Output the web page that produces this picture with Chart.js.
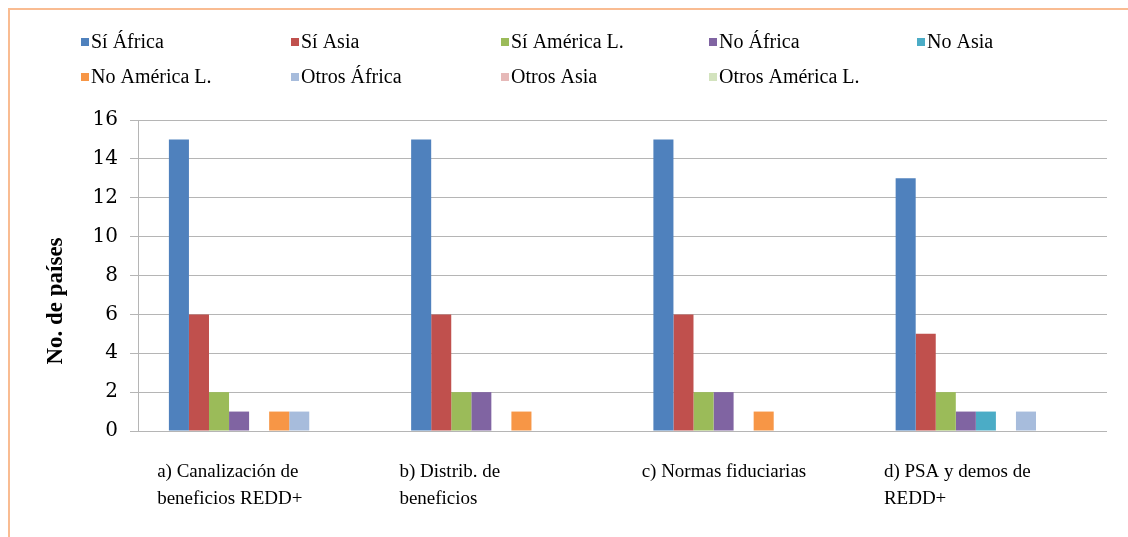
<!DOCTYPE html>
<html>
<head>
<meta charset="utf-8">
<script src="https://cdn.jsdelivr.net/npm/chart.js@4/dist/chart.umd.min.js"></script>
<style>
  html, body { margin: 0; padding: 0; background: #fff; }
  #wrap { width: 1128px; height: 537px; position: relative; }
</style>
</head>
<body>
<div id="wrap"><canvas id="chart"></canvas></div>
<script>
// Datos
const categories = [
    ['a) Canalización de', 'beneficios REDD+'],
    ['b) Distrib. de', 'beneficios'],
    ['c) Normas fiduciarias'],
    ['d) PSA y demos de', 'REDD+']
];
const seriesNames = ['Sí África', 'Sí Asia', 'Sí América L.', 'No África', 'No Asia',
    'No América L.', 'Otros África', 'Otros Asia', 'Otros América L.'];
const siAfrica      = [15, 15, 15, 13];
const siAsia        = [6, 6, 6, 5];
const siAmerica     = [2, 2, 2, 2];
const noAfrica      = [1, 2, 2, 1];
const noAsia        = [0, 0, 0, 1];
const noAmerica     = [1, 1, 1, 0];
const otrosAfrica   = [1, 0, 0, 1];
const otrosAsia     = [0, 0, 0, 0];
const otrosAmerica  = [0, 0, 0, 0];
const yTicks = [0, 2, 4, 6, 8, 10, 12, 14, 16];

const seriesValues = [siAfrica, siAsia, siAmerica, noAfrica, noAsia, noAmerica, otrosAfrica, otrosAsia, otrosAmerica];
const colors = ['#4F81BD', '#C0504D', '#9BBB59', '#8064A2', '#4BACC6', '#F79646', '#A7BCDC', '#E6B9B8', '#D3E3BE'];

const serif = '"Times New Roman", "Liberation Serif", serif';

// leyenda tipo Excel en rejilla + marco naranja + título del eje Y
const decorPlugin = {
    id: 'decor',
    beforeDraw(chart) {
        const ctx = chart.ctx;
        ctx.save();
        ctx.strokeStyle = '#F9BC92';
        ctx.lineWidth = 2;
        ctx.beginPath();
        ctx.moveTo(9, 545);
        ctx.lineTo(9, 9);
        ctx.lineTo(1140, 9);
        ctx.stroke();
        ctx.restore();
    },
    afterDraw(chart) {
        const ctx = chart.ctx;
        const colX = [81, 291, 501, 709, 917];
        const rowY = [42, 77];
        ctx.save();
        ctx.font = '20px ' + serif;
        ctx.textBaseline = 'middle';
        ctx.fillStyle = '#000';
        chart.data.datasets.forEach((ds, i) => {
            const x = colX[i % 5];
            const y = rowY[Math.floor(i / 5)];
            ctx.fillStyle = ds.backgroundColor;
            ctx.fillRect(x, y - 4, 8, 8);
            ctx.fillStyle = '#000';
            ctx.fillText(ds.label, x + 10, y + 1);
        });
        // título eje Y
        ctx.translate(56, 301);
        ctx.rotate(-Math.PI / 2);
        ctx.font = 'bold 23px ' + serif;
        ctx.textAlign = 'center';
        ctx.fillText('No. de países', 0, 0);
        ctx.restore();
    }
};

new Chart(document.getElementById('chart'), {
    type: 'bar',
    data: {
        labels: categories,
        datasets: seriesNames.map((name, i) => ({
            label: name,
            data: seriesValues[i],
            backgroundColor: colors[i],
            borderWidth: 0,
            categoryPercentage: 0.745,
            barPercentage: 1
        }))
    },
    options: {
        responsive: true,
        maintainAspectRatio: false,
        animation: false,
        layout: { padding: { top: 120, right: 21, left: 0, bottom: 0 } },
        plugins: {
            legend: { display: false },
            tooltip: { enabled: false }
        },
        scales: {
            x: {
                grid: { display: false, drawTicks: false },
                border: { display: false },
                ticks: {
                    color: '#000',
                    font: { family: serif, size: 19, lineHeight: 1.45 },
                    align: 'start',
                    labelOffset: -102,
                    padding: 27,
                    maxRotation: 0,
                    autoSkip: false
                },
                afterFit(scale) {
                    scale.height = 106;
                    scale.paddingLeft = 0;
                    scale.paddingRight = 0;
                }
            },
            y: {
                min: 0,
                max: 16,
                afterBuildTicks(scale) { scale.ticks = yTicks.map(v => ({ value: v })); },
                grid: { color: '#b5b5b5', lineWidth: 1, tickLength: 8, drawTicks: true },
                border: { display: true, color: '#b5b5b5' },
                ticks: {
                    color: '#000',
                    font: { family: '"DejaVu Serif", serif', size: 20 },
                    padding: 12
                },
                afterFit(scale) { scale.width = 138; }
            }
        }
    },
    plugins: [decorPlugin]
});
</script>
</body>
</html>
